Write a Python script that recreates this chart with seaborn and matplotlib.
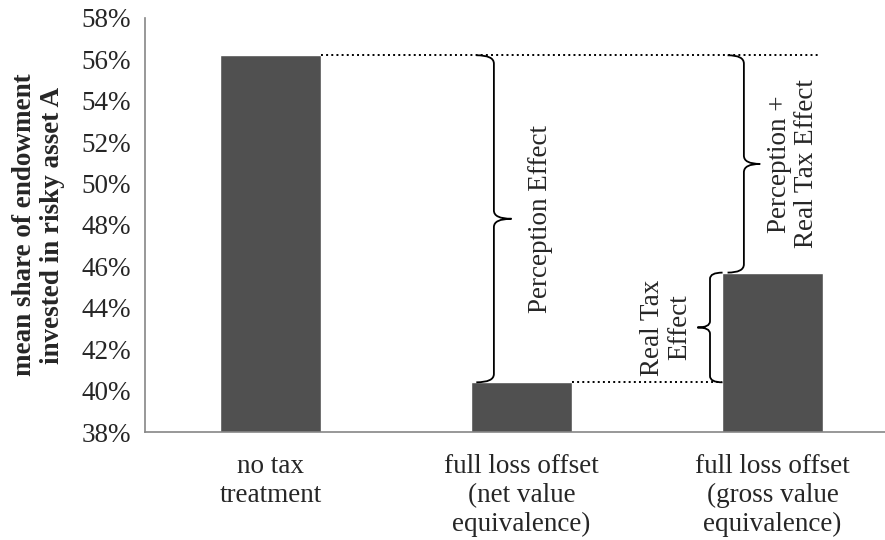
import numpy as np
import pandas as pd
import seaborn as sns
import matplotlib.pyplot as plt
from matplotlib.path import Path
from matplotlib.patches import PathPatch
from matplotlib.ticker import PercentFormatter, FixedLocator

# data
categories = ["no tax\ntreatment",
              "full loss offset\n(net value\nequivalence)",
              "full loss offset\n(gross value\nequivalence)"]
shares = [0.562, 0.404, 0.457]
effect_labels = ["Perception Effect", "Real Tax\nEffect", "Perception +\nReal Tax Effect"]

sns.set_style("white")
plt.rcParams['font.family'] = ['Liberation Serif', 'DejaVu Serif']
plt.rcParams['font.size'] = 19.5

df = pd.DataFrame({"treatment": categories, "share": shares})

fig = plt.figure(figsize=(8.85, 5.4), dpi=100)
ax = fig.add_axes([145 / 885, 108 / 540, 753 / 885, 414 / 540])
sns.barplot(data=df, x="treatment", y="share", color="#505050", width=0.4,
            saturation=1, ax=ax)

ax.set_xlim(-0.5, 2.5)
ax.set_ylim(0.38, 0.58)
ax.yaxis.set_major_locator(FixedLocator(np.arange(0.38, 0.5801, 0.02)))
ax.yaxis.set_major_formatter(PercentFormatter(1.0, decimals=0))

# x ticks at category boundaries, labels in the middle
ax.set_xticks([-0.5, 0.5, 1.5, 2.5])
ax.set_xticklabels([])
ax.set_xticks([0, 1, 2], minor=True)
ax.set_xticklabels(categories, minor=True, linespacing=1.2)
ax.tick_params(axis="x", which="minor", length=0, pad=16)
ax.tick_params(axis="x", which="major", length=7, color="#868686", width=1)
ax.tick_params(axis="y", length=7, color="#868686", width=1, pad=3)

for s in ["top", "right"]:
    ax.spines[s].set_visible(False)
for s in ["left", "bottom"]:
    ax.spines[s].set_color("#868686")
    ax.spines[s].set_linewidth(1.2)

ax.set_xlabel("")
ax.set_ylabel("mean share of endowment\ninvested in risky asset A",
              fontweight="bold", linespacing=1.15, labelpad=12)


def brace(ax, x, y0, y1, w, r, side):
    # vertical curly brace, tip points to side (+1 right, -1 left)
    ym = (y0 + y1) / 2
    xe = x - side * w
    xt = x + side * w
    verts = [(xe, y0), (x, y0), (x, y0 + r), (x, ym - r), (x, ym), (xt, ym),
             (xt, ym), (x, ym), (x, ym + r), (x, y1 - r), (x, y1), (xe, y1)]
    codes = [Path.MOVETO, Path.CURVE3, Path.CURVE3, Path.LINETO, Path.CURVE3, Path.CURVE3,
             Path.MOVETO, Path.CURVE3, Path.CURVE3, Path.LINETO, Path.CURVE3, Path.CURVE3]
    ax.add_patch(PathPatch(Path(verts, codes), fc="none", ec="black", lw=1.3,
                           clip_on=False))


# dotted reference lines
ax.plot([0.2, 2.19], [shares[0], shares[0]], ls=":", color="black", lw=1.4)
ax.plot([1.2, 1.8], [shares[1], shares[1]], ls=":", color="black", lw=1.4)

brace(ax, 0.89, shares[1], shares[0], 0.07, 0.004, 1)
brace(ax, 1.751, shares[1], shares[2], 0.05, 0.003, -1)
brace(ax, 1.886, shares[2], shares[0], 0.065, 0.004, 1)

ax.text(1.074, (shares[0] + shares[1]) / 2, effect_labels[0], rotation=90,
        ha="center", va="center")
ax.text(1.576, (shares[1] + shares[2]) / 2, effect_labels[1], rotation=90,
        ha="center", va="center", multialignment="center", linespacing=1.1)
ax.text(2.08, (shares[0] + shares[2]) / 2, effect_labels[2], rotation=90,
        ha="center", va="center", multialignment="center", linespacing=1.1)

fig.savefig("out.png", dpi=100)
